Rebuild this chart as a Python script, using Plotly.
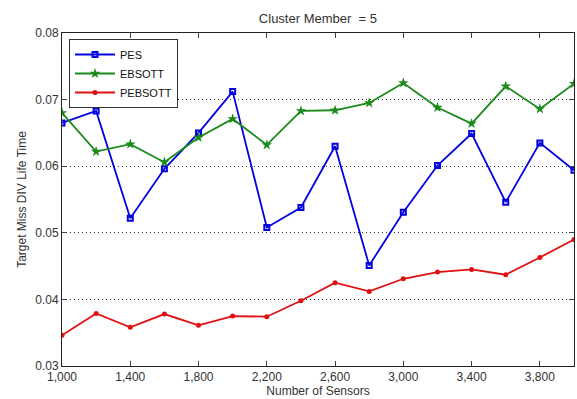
import plotly.graph_objects as go

sensors = [1000, 1200, 1400, 1600, 1800, 2000, 2200, 2400, 2600, 2800, 3000, 3200, 3400, 3600, 3800, 4000]
pes = [0.0665, 0.0683, 0.0522, 0.0596, 0.0650, 0.0712, 0.0508, 0.0538, 0.0630, 0.0451, 0.0531, 0.0601, 0.0649, 0.0546, 0.0635, 0.0594]
ebsott = [0.0680, 0.0622, 0.0633, 0.0606, 0.0643, 0.0671, 0.0632, 0.0683, 0.0684, 0.0695, 0.0725, 0.0688, 0.0664, 0.0720, 0.0686, 0.0724]
pebsott = [0.0346, 0.0379, 0.0358, 0.0378, 0.0361, 0.0375, 0.0374, 0.0398, 0.0425, 0.0412, 0.0431, 0.0441, 0.0445, 0.0437, 0.0463, 0.0490]
x_ticks = [1000, 1400, 1800, 2200, 2600, 3000, 3400, 3800]
y_ticks = [0.03, 0.04, 0.05, 0.06, 0.07, 0.08]

fig = go.Figure()
fig.add_trace(go.Scatter(x=sensors, y=pes, name="PES", mode="lines+markers",
                         line=dict(color="#0000e0", width=1.8),
                         marker=dict(symbol="square-open", size=5, color="#0000e0", line=dict(width=2))))
fig.add_trace(go.Scatter(x=sensors, y=ebsott, name="EBSOTT", mode="lines+markers",
                         line=dict(color="#1a8a1a", width=1.8),
                         marker=dict(symbol="star", size=8, color="#1a8a1a")))
fig.add_trace(go.Scatter(x=sensors, y=pebsott, name="PEBSOTT", mode="lines+markers",
                         line=dict(color="#e01010", width=1.8),
                         marker=dict(symbol="circle", size=5, color="#e01010")))

fig.update_layout(
    width=577, height=399,
    margin=dict(l=62, r=3, t=33, b=33),
    paper_bgcolor="white", plot_bgcolor="white",
    font=dict(family="Liberation Sans, Arial, sans-serif", size=12, color="#333"),
    title=dict(text="Cluster Member  = 5", x=0.551, xanchor="center", y=0.955, yanchor="middle",
               font=dict(size=13, color="#333")),
    showlegend=True,
    legend=dict(x=0.0137, y=0.982, xanchor="left", yanchor="top", bordercolor="#333", borderwidth=1,
                bgcolor="white", font=dict(size=11, color="#111"), tracegroupgap=0,
                itemwidth=40),
)
fig.update_xaxes(range=[1000, 4000], tickvals=x_ticks, tickformat=",", ticks="inside", ticklen=5,
                 showline=True, linecolor="#222", linewidth=1, mirror="ticks", showgrid=False,
                 zeroline=False, title=dict(text="Number of Sensors", standoff=2, font=dict(size=12)))
fig.update_yaxes(range=[0.03, 0.08], tickvals=y_ticks, tickformat=".2f", ticks="inside", ticklen=5,
                 showline=True, linecolor="#222", linewidth=1, mirror="ticks", showgrid=True,
                 gridcolor="#333", griddash="1px,3px", gridwidth=1, zeroline=False,
                 title=dict(text="Target Miss DIV Life Time", standoff=6, font=dict(size=12)))

fig.write_html("out.html", config={"displayModeBar": False},
               post_script="document.body.style.margin='0';document.body.style.overflow='hidden';")
